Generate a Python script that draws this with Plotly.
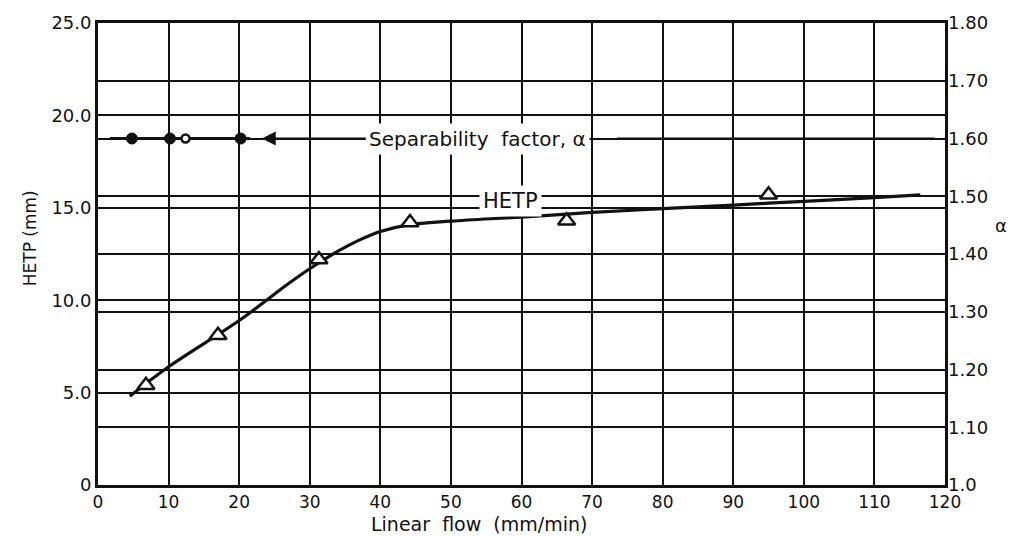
import plotly.graph_objects as go

# ---- data ----
hetp_flow = [6.8, 17.0, 31.3, 44.2, 66.4, 95.0]
hetp_vals = [5.4, 8.1, 12.2, 14.2, 14.3, 15.7]

curve_flow = [4.5, 10, 20, 27, 30, 34, 37, 40, 44, 50, 60, 70, 80, 90, 100, 110, 116.5]
curve_hetp = [4.8, 6.4, 8.9, 10.9, 11.7, 12.65, 13.25, 13.72, 14.08, 14.28, 14.5, 14.75, 14.95,
              15.15, 15.35, 15.55, 15.7]

alpha_flow = [4.8, 10.2, 20.2]
alpha_vals = [1.60, 1.60, 1.60]
alpha_open_flow = [12.4]
alpha_open_vals = [1.60]
alpha_line_flow = [1.7, 21.5]
alpha_line_vals = [1.60, 1.60]
alpha_tail_flow = [73.5, 118.5]
alpha_tail_vals = [1.60, 1.60]

x_ticks = [0, 10, 20, 30, 40, 50, 60, 70, 80, 90, 100, 110, 120]
y_ticks = [0, 5, 10, 15, 20, 25]
y_ticktext = ["0", "5.0", "10.0", "15.0", "20.0", "25.0"]
y2_ticks = [1.0, 1.1, 1.2, 1.3, 1.4, 1.5, 1.6, 1.7, 1.8]
y2_ticktext = ["1.0", "1.10", "1.20", "1.30", "1.40", "1.50", "1.60", "1.70", "1.80"]

FONT = "DejaVu Sans"
INK = "#111111"

fig = go.Figure()

fig.add_trace(go.Scatter(x=curve_flow, y=curve_hetp, mode="lines",
                         line=dict(color=INK, width=3.2, shape="spline", smoothing=1.0),
                         showlegend=False, hoverinfo="skip"))
fig.add_trace(go.Scatter(x=hetp_flow, y=hetp_vals, mode="markers",
                         marker=dict(symbol="triangle-up", size=15, color="white",
                                     line=dict(color=INK, width=2.5)),
                         showlegend=False))

fig.add_trace(go.Scatter(x=alpha_line_flow, y=alpha_line_vals, yaxis="y2", mode="lines",
                         line=dict(color=INK, width=3), showlegend=False, hoverinfo="skip"))
fig.add_trace(go.Scatter(x=alpha_tail_flow, y=alpha_tail_vals, yaxis="y2", mode="lines",
                         line=dict(color=INK, width=2.2), showlegend=False, hoverinfo="skip"))
fig.add_trace(go.Scatter(x=alpha_flow, y=alpha_vals, yaxis="y2", mode="markers",
                         marker=dict(symbol="circle", size=11, color=INK,
                                     line=dict(color=INK, width=1)),
                         showlegend=False))
fig.add_trace(go.Scatter(x=alpha_open_flow, y=alpha_open_vals, yaxis="y2", mode="markers",
                         marker=dict(symbol="circle", size=8, color="white",
                                     line=dict(color=INK, width=2.5)),
                         showlegend=False))

fig.update_layout(
    width=1017, height=536,
    margin=dict(l=98, r=72, t=17, b=51),
    paper_bgcolor="white", plot_bgcolor="white",
    font=dict(family=FONT, color=INK, size=18),
    xaxis=dict(range=[0, 120], tickvals=x_ticks, showgrid=True, gridcolor=INK, gridwidth=1.8,
               showline=True, linecolor=INK, linewidth=2.8, mirror=True, zeroline=False,
               ticks="", ticklabelstandoff=0, tickfont=dict(size=17, family=FONT, color=INK)),
    yaxis=dict(range=[0, 25], tickvals=y_ticks, ticktext=y_ticktext, showgrid=True,
               gridcolor=INK, gridwidth=1.8, showline=True, linecolor=INK, linewidth=2.8,
               mirror=True, zeroline=False, ticks="", ticklabelstandoff=0,
               tickfont=dict(size=18, family=FONT, color=INK)),
    yaxis2=dict(range=[1.0, 1.8], tickvals=y2_ticks, ticktext=y2_ticktext, overlaying="y",
                side="right", showgrid=True, gridcolor=INK, gridwidth=1.8, zeroline=False,
                showline=False, ticks="", ticklabelstandoff=2,
                tickfont=dict(size=18, family=FONT, color=INK)),
    annotations=[
        dict(text="Separability  factor, α", x=23.2, y=1.60, xref="x", yref="y2",
             ax=53.8, ay=1.60, axref="x", ayref="y2", showarrow=True, arrowhead=2,
             arrowsize=1.4, arrowwidth=2.0, arrowcolor=INK, bgcolor="white",
             font=dict(size=20, family=FONT, color=INK), borderpad=3),
        dict(text="HETP", x=58.4, y=15.35, xref="x", yref="y", showarrow=False,
             bgcolor="white", font=dict(size=21, family=FONT, color=INK), borderpad=3),
        dict(text="Linear  flow  (mm/min)", x=(479 - 98) / 847, y=-0.084, xref="paper",
             yref="paper", yanchor="middle", showarrow=False, borderpad=0,
             font=dict(size=19, family=FONT, color=INK)),
        dict(text="HETP (mm)", x=-0.0945, y=0.534, xref="paper", yref="paper",
             textangle=-90, showarrow=False, font=dict(size=17, family=FONT, color=INK)),
        dict(text="α", x=1.074, y=0.562, xref="paper", yref="paper", showarrow=False,
             borderpad=0, font=dict(size=18, family=FONT, color=INK)),
    ],
)

fig.write_html("out.html")
